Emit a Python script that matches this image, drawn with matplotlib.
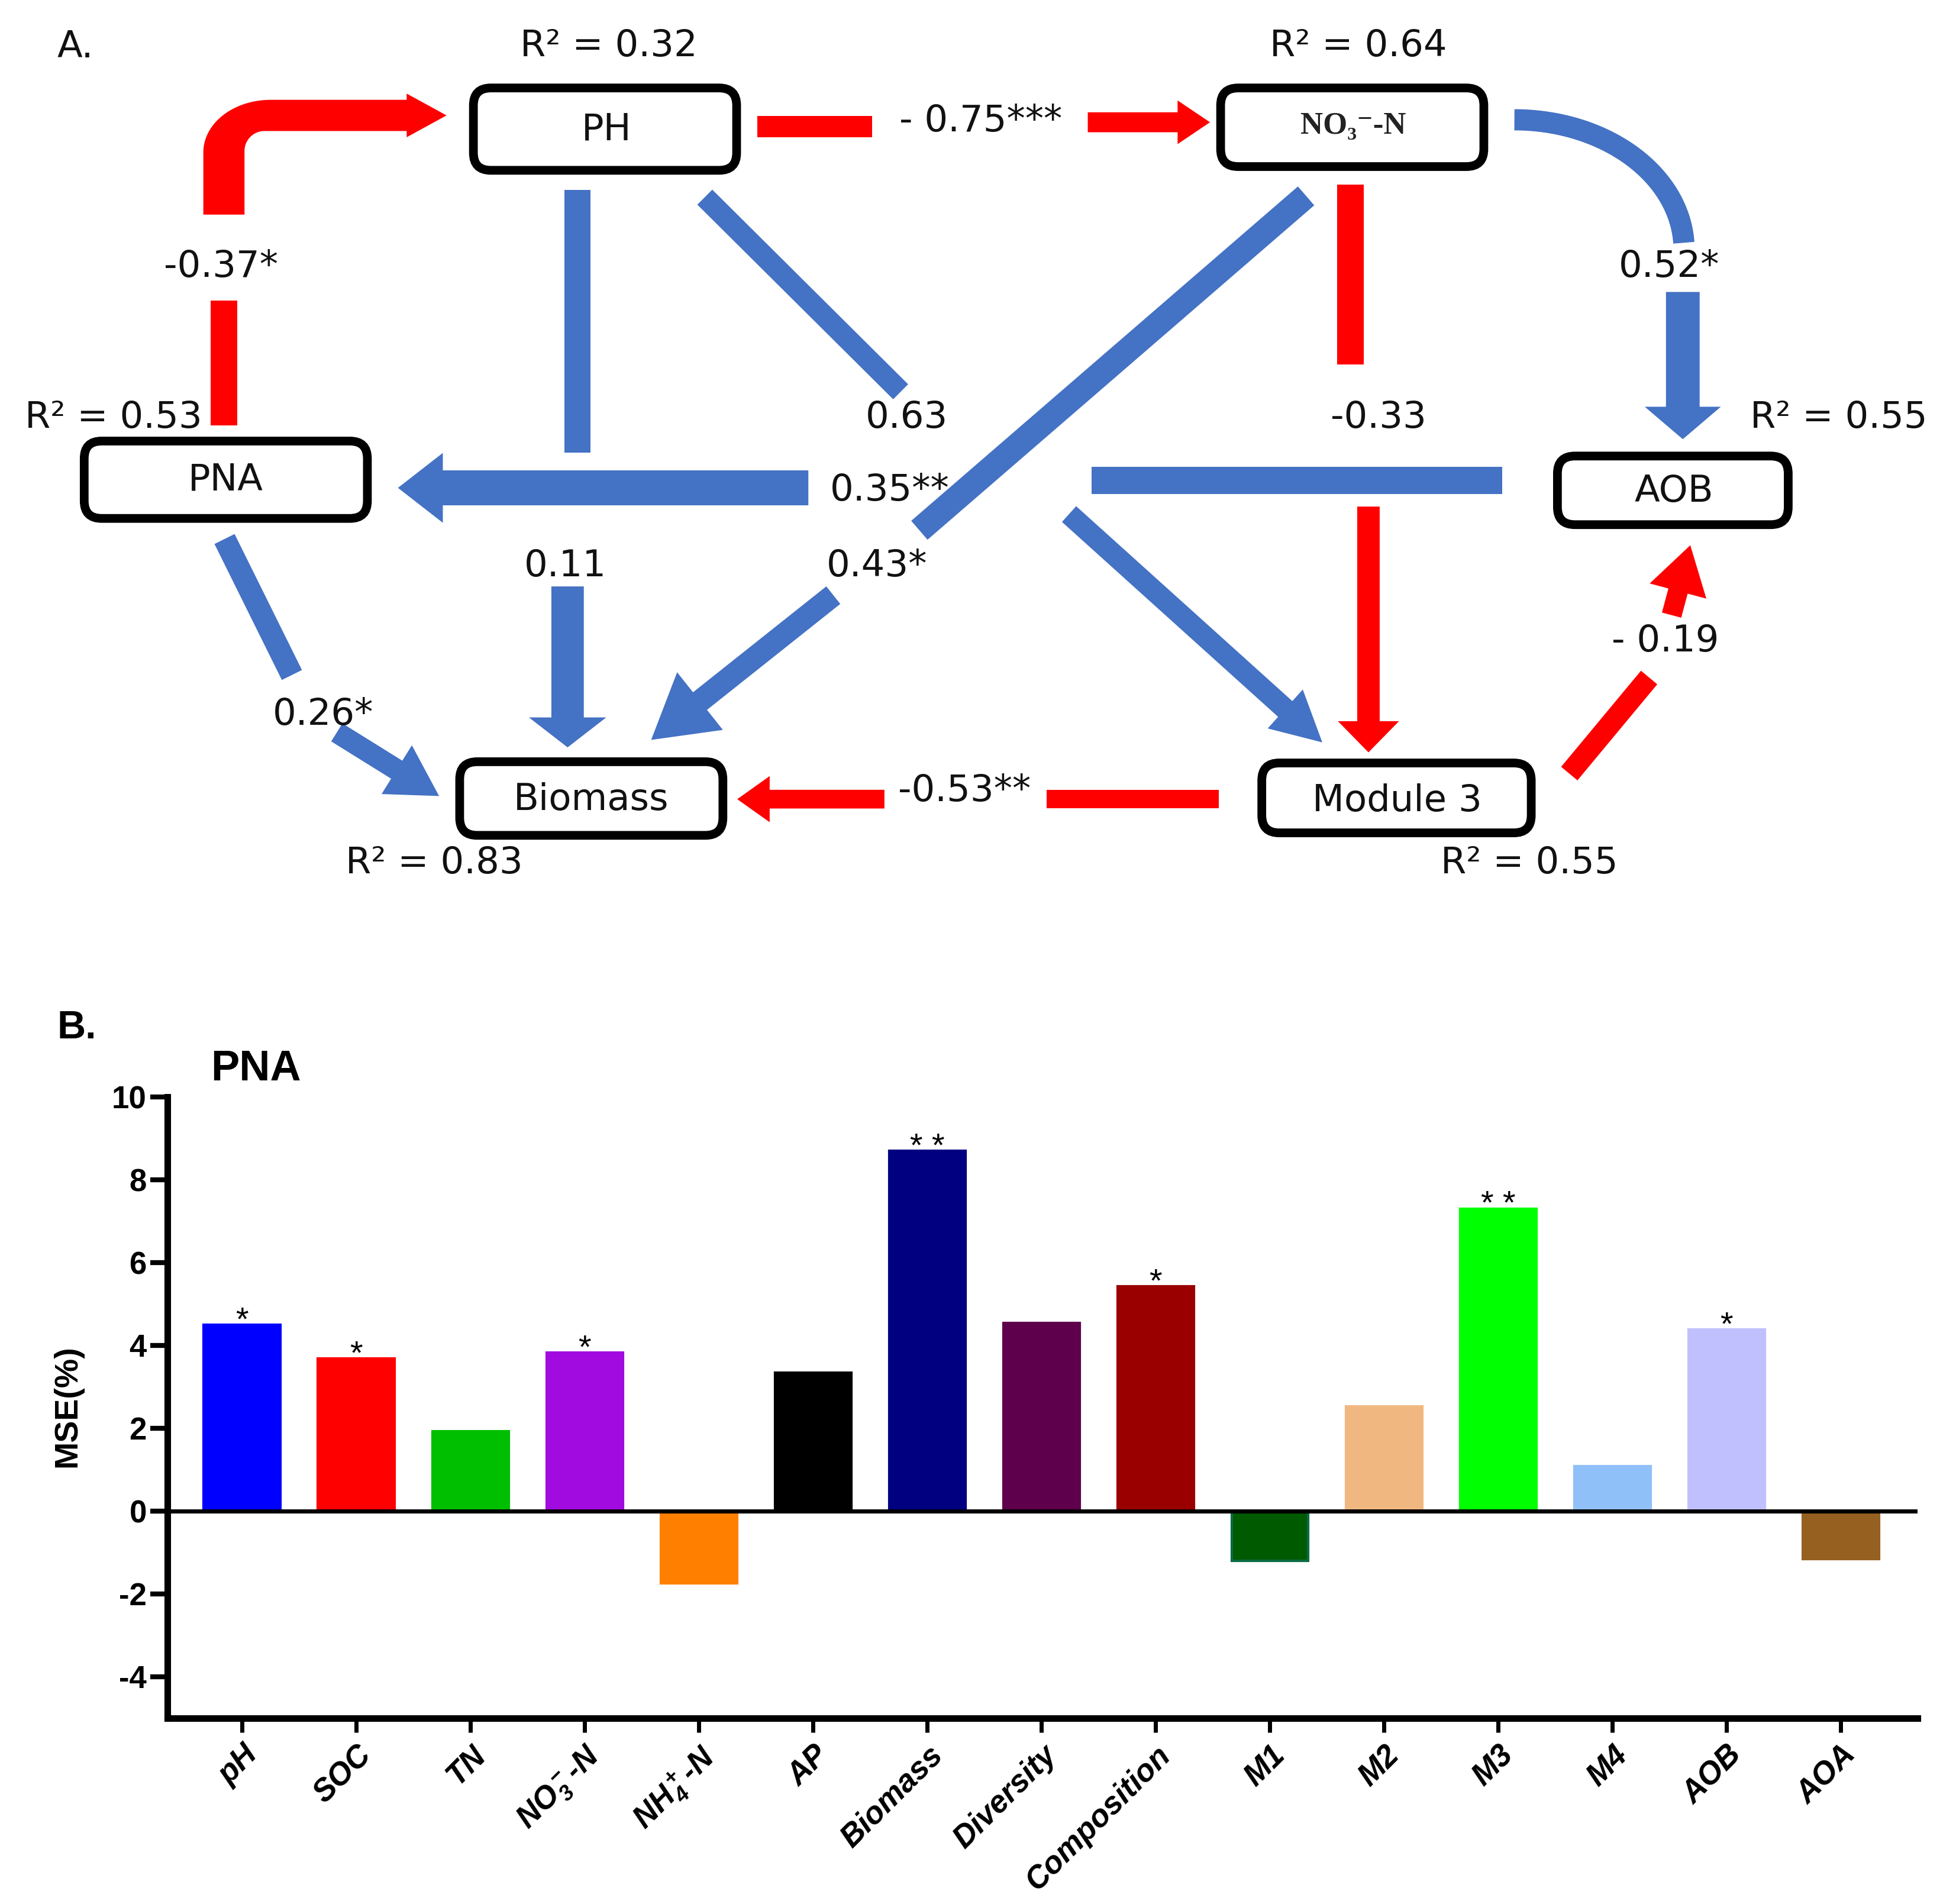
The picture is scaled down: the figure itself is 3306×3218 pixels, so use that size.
import numpy as np
import matplotlib
matplotlib.use("Agg")
import matplotlib.pyplot as plt
from matplotlib.patches import Polygon, FancyBboxPatch

plt.rcParams['font.family'] = ['DejaVu Sans']
plt.rcParams['mathtext.fontset'] = 'custom'
plt.rcParams['mathtext.rm'] = 'Liberation Sans:bold:italic'
plt.rcParams['mathtext.it'] = 'Liberation Sans:bold:italic'
plt.rcParams['mathtext.bf'] = 'Liberation Sans:bold:italic'
plt.rcParams['mathtext.default'] = 'rm'

# ---------------- data: panel B ----------------
categories = ['pH', 'SOC', 'TN', 'NO$_3^-$-N', 'NH$_4^+$-N', 'AP', 'Biomass', 'Diversity',
              'Composition', 'M1', 'M2', 'M3', 'M4', 'AOB', 'AOA']
mse_values = [4.50, 3.68, 1.93, 3.83, -1.74, 3.34, 8.69, 4.54, 5.42, -1.21, 2.52, 7.30, 1.08, 4.38, -1.16]
significance = ['*', '*', '', '*', '', '', '* *', '', '*', '', '', '* *', '', '*', '']
bar_colors = ['#0000FF', '#FF0000', '#00BE00', '#A20BE0', '#FF8000', '#000000', '#000080', '#5E004C',
              '#9A0000', '#005A00', '#F0B880', '#00FF00', '#90C0F8', '#C0C0FF', '#956020']
y_ticks = [-4, -2, 0, 2, 4, 6, 8, 10]

# ---------------- data: panel A ----------------
node_names = ['PH', 'NO\u2083\u207b-N', 'PNA', 'AOB', 'Biomass', 'Module 3']
node_r2 = ['R\u00b2 = 0.32', 'R\u00b2 = 0.64', 'R\u00b2 = 0.53', 'R\u00b2 = 0.55', 'R\u00b2 = 0.83', 'R\u00b2 = 0.55']
path_labels = ['-0.37*', '- 0.75***', '0.52*', '0.63', '-0.33', '0.35**', '0.11', '0.43*',
               '0.26*', '-0.53**', '- 0.19']

# layout (reference pixel frame 1568 x 1526)
node_boxes = [(376, 67, 594, 140), (975, 67, 1193, 137), (64, 350, 298, 419),
              (1245, 362, 1437, 424), (365, 607, 583, 673), (1008, 608, 1231, 671)]
node_text_pos = [(486, 104), (1085, 101), (181, 385), (1342, 394), (474, 641), (1120, 642)]
r2_pos = [(488, 37), (1089, 37), (91, 335), (1474, 335), (348, 692), (1226, 692)]
label_pos = [(177, 214), (786, 97), (1338, 214), (727, 335), (1105, 335), (713, 393),
             (453, 454), (703, 454), (259, 573), (773, 634), (1335, 514)]

RED = '#FF0000'
BLUE = '#4472C4'
# straight arrow pieces: color, x0, y0, x1, y1, width, head width, head length
arrow_pieces = [
    (RED, 607, 101.5, 699, 101.5, 17, 0, 0),
    (RED, 872, 98, 970, 98, 16, 35, 26),
    (RED, 1082.5, 148, 1082.5, 292, 21, 0, 0),
    (RED, 1097, 406, 1097, 603, 18, 49, 25),
    (RED, 977, 640.5, 839, 640.5, 15, 0, 0),
    (RED, 709, 640.5, 591, 640.5, 15, 37, 26),
    (RED, 1258, 620, 1322, 543, 17, 0, 0),
    (RED, 1340, 493, 1355, 437, 16, 47, 38),
    (RED, 179.5, 341, 179.5, 241, 21, 0, 0),
    (BLUE, 463, 152, 463, 363, 21, 0, 0),
    (BLUE, 455, 470, 455, 599, 26, 62, 24),
    (BLUE, 1204, 385, 875, 385, 22, 0, 0),
    (BLUE, 648, 391, 319, 391, 28, 56, 36),
    (BLUE, 565, 158, 722, 314, 17, 0, 0),
    (BLUE, 857, 412, 1060, 595, 17, 42, 40),
    (BLUE, 1047, 157, 737, 425, 20, 0, 0),
    (BLUE, 668, 477, 522, 593, 18, 59, 50),
    (BLUE, 180, 432, 234, 541, 18, 0, 0),
    (BLUE, 270, 587, 352, 638, 17, 46, 40),
    (BLUE, 1349, 234, 1349, 352, 27, 61, 26),
]

W, H = 1568.0, 1526.0
PT = 3306 / W * 72 / 100  # points per reference pixel

fig = plt.figure(figsize=(33.06, 32.18), dpi=100)
fig.patch.set_facecolor('white')
ax0 = fig.add_axes([0, 0, 1, 1])
ax0.set_xlim(0, W)
ax0.set_ylim(H, 0)
ax0.set_axis_off()


def piece(ax, color, x0, y0, x1, y1, w, hw, hl):
    p0 = np.array([x0, y0], float)
    p1 = np.array([x1, y1], float)
    d = p1 - p0
    L = np.hypot(*d)
    u = d / L
    n = np.array([-u[1], u[0]])
    if hl > 0:
        b = p0 + u * (L - hl)
        pts = [p0 + n * w / 2, b + n * w / 2, b + n * hw / 2, p1, b - n * hw / 2, b - n * w / 2, p0 - n * w / 2]
    else:
        pts = [p0 + n * w / 2, p1 + n * w / 2, p1 - n * w / 2, p0 - n * w / 2]
    ax.add_patch(Polygon(pts, closed=True, facecolor=color, edgecolor='none', zorder=2))


for pc in arrow_pieces:
    piece(ax0, *pc)

# bent red arrow PNA -> PH (upper part)
t_out = np.linspace(np.pi, 1.5 * np.pi, 30)
outer = [(217 + 54 * np.cos(t), 122 + 42 * np.sin(t)) for t in t_out]
t_in = np.linspace(1.5 * np.pi, np.pi, 30)
inner = [(212 + 16 * np.cos(t), 121 + 16 * np.sin(t)) for t in t_in]
bent = [(163, 172)] + outer + [(326, 80), (326, 75), (358, 92.5), (326, 110), (326, 105)] + inner + [(196, 172)]
ax0.add_patch(Polygon(bent, closed=True, facecolor=RED, edgecolor='none', zorder=2))

# curved blue arc NO3 -> AOB (upper part)
tt = np.linspace(np.pi / 2, np.radians(3), 80)
ax0.plot(1214 + 136 * np.cos(tt), 200 - 104 * np.sin(tt), color=BLUE, lw=17 * PT,
         solid_capstyle='butt', zorder=2)

TXT = 45
# node boxes
for (x0, y0, x1, y1), name, (tx, ty) in zip(node_boxes, node_names, node_text_pos):
    lw = 7
    box = FancyBboxPatch((x0 + lw / 2, y0 + lw / 2), x1 - x0 - lw, y1 - y0 - lw,
                         boxstyle='round,pad=0,rounding_size=14', facecolor='white',
                         edgecolor='black', linewidth=lw * PT, zorder=3)
    ax0.add_patch(box)
    if name.startswith('NO'):
        ax0.text(tx, ty, name, ha='center', va='center', fontsize=38, fontweight='bold',
                 family=['Liberation Serif', 'DejaVu Serif'], color='#222222', zorder=4)
    else:
        ax0.text(tx, ty, name, ha='center', va='center', fontsize=TXT, color='#111111', zorder=4)

for s, (x, y) in zip(node_r2, r2_pos):
    ax0.text(x, y, s, ha='center', va='center', fontsize=TXT, color='#111111')
for s, (x, y) in zip(path_labels, label_pos):
    ax0.text(x, y, s, ha='center', va='center', fontsize=TXT, color='#111111', zorder=4)
ax0.text(46, 38, 'A.', ha='left', va='center', fontsize=TXT, color='#111111')

# ---------------- panel B ----------------
ax0.text(46, 824, 'B.', ha='left', va='center', fontsize=48, fontweight='bold', family='Liberation Sans')
ax0.text(169, 857, 'PNA', ha='left', va='center', fontsize=52, fontweight='bold', family='Liberation Sans')
ax0.text(54, 1127, 'MSE(%)', ha='center', va='center', rotation=90, fontsize=40, fontweight='bold',
         family='Liberation Sans')

axb = fig.add_axes([134 / W, 1 - 1377 / H, (1537 - 134) / W, (1377 - 879) / H])
axb.patch.set_alpha(0)
xpos = np.arange(len(categories))
edge = ['#0B6B45' if c == 'M1' else col for c, col in zip(categories, bar_colors)]
axb.bar(xpos, mse_values, width=0.67, color=bar_colors, edgecolor=edge, linewidth=3, zorder=2)
axb.axhline(0, color='black', lw=5, zorder=3)
for xi, v, s in zip(xpos, mse_values, significance):
    if s:
        axb.text(xi, v - 0.12, s, ha='center', va='baseline', fontsize=40, family='Liberation Sans')
axb.set_xlim(-0.656, 14.67)
axb.set_ylim(-5, 10)
for sp in ['top', 'right']:
    axb.spines[sp].set_visible(False)
for sp in ['left', 'bottom']:
    axb.spines[sp].set_linewidth(8)
axb.set_yticks(y_ticks)
axb.set_yticklabels([str(t) for t in y_ticks], fontsize=38, fontweight='bold', family='Liberation Sans')
axb.tick_params(axis='y', length=21, width=6, pad=4)
axb.set_xticks(xpos)
axb.set_xticklabels(categories, rotation=45, ha='right', rotation_mode='anchor', fontsize=38,
                    fontweight='bold', fontstyle='italic', family='Liberation Sans')
axb.tick_params(axis='x', length=17, width=5, pad=10)

fig.savefig('out.png', dpi=100, facecolor='white')
